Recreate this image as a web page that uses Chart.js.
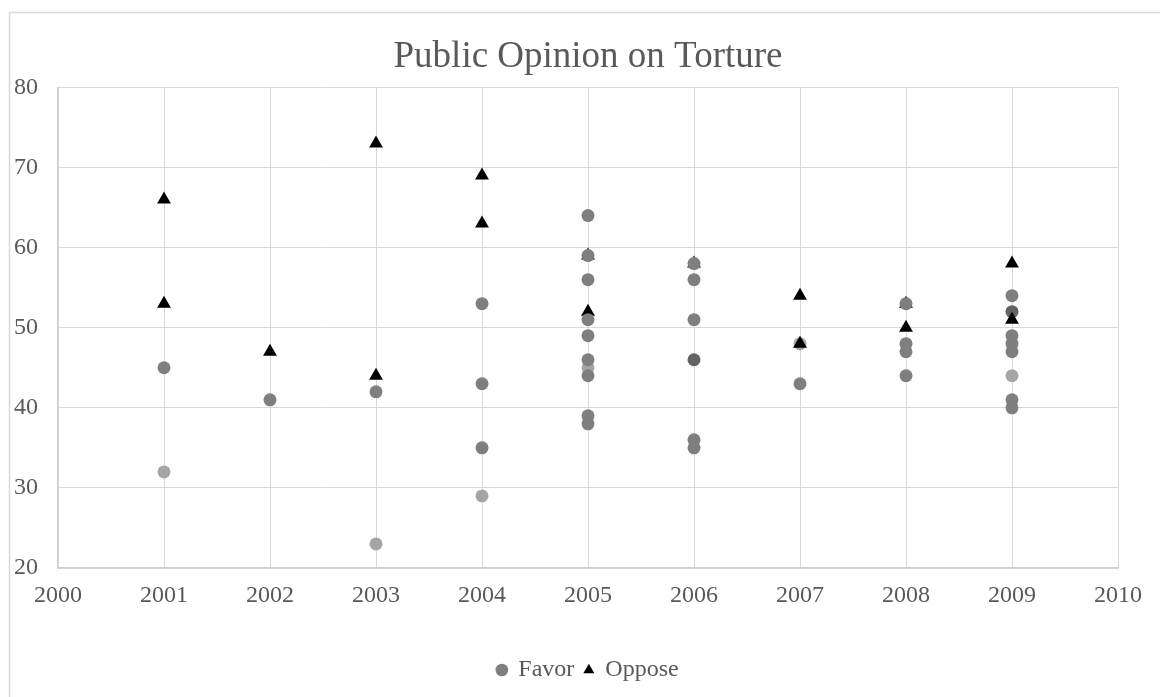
<!DOCTYPE html>
<html>
<head>
<meta charset="utf-8">
<title>Public Opinion on Torture</title>
<script src="https://cdn.jsdelivr.net/npm/chart.js@4/dist/chart.umd.min.js"></script>
<style>
  html, body { margin: 0; padding: 0; background: #fff; }
  #wrap { position: relative; width: 1160px; height: 697px; }
</style>
</head>
<body>
<div id="wrap"><canvas id="chart"></canvas></div>
<script>
// ============================
// Data
// ============================
const xTicks = [2000, 2001, 2002, 2003, 2004, 2005, 2006, 2007, 2008, 2009, 2010];
const yTicks = [20, 30, 40, 50, 60, 70, 80];

// Favor (main grey markers)
const favorYears  = [2001, 2002, 2003, 2004, 2004, 2004,
                     2005, 2005, 2005, 2005, 2005, 2005, 2005, 2005, 2005,
                     2006, 2006, 2006, 2006, 2006,
                     2007,
                     2008, 2008, 2008, 2008,
                     2009, 2009, 2009, 2009, 2009, 2009];
const favorValues = [45, 41, 42, 53, 43, 35,
                     64, 59, 56, 51, 49, 46, 44, 39, 38,
                     58, 56, 51, 36, 35,
                     43,
                     53, 48, 47, 44,
                     54, 49, 48, 47, 41, 40];

// Favor points drawn darker
const favorDarkYears  = [2006, 2009];
const favorDarkValues = [46, 52];

// Favor points drawn lighter
const favorLightYears  = [2001, 2003, 2004, 2005, 2007, 2009];
const favorLightValues = [32, 23, 29, 45, 48, 44];

// Oppose
const opposeYears  = [2001, 2001, 2002, 2003, 2003, 2004, 2004, 2005, 2005, 2006, 2007, 2007, 2008, 2008, 2009, 2009];
const opposeValues = [66, 53, 47, 73, 44, 69, 63, 59, 52, 58, 54, 48, 53, 50, 58, 51];

function toPoints(xs, ys) {
  return xs.map((x, i) => ({ x: x, y: ys[i] }));
}

// ============================
// Chart frame (Excel-style outer border, cropped on right/bottom)
// ============================
const framePlugin = {
  id: "frame",
  beforeDraw(chart) {
    const ctx = chart.ctx;
    ctx.save();
    ctx.strokeStyle = "#D9D9D9";
    ctx.lineWidth = 1.5;
    ctx.beginPath();
    ctx.moveTo(9.5, chart.height);
    ctx.lineTo(9.5, 12.5);
    ctx.lineTo(chart.width, 12.5);
    ctx.stroke();
    ctx.restore();
  }
};

const textColor = "#595959";
const serif = "'Liberation Serif', 'Times New Roman', serif";

new Chart(document.getElementById("chart").getContext("2d"), {
  type: "scatter",
  data: {
    datasets: [
      {
        label: "Favor",
        data: toPoints(favorYears, favorValues),
        pointStyle: "circle",
        pointRadius: 6.5,
        pointBorderWidth: 0,
        backgroundColor: "#7F7F7F",
        borderColor: "#7F7F7F",
        order: 0
      },
      {
        label: "Oppose",
        data: toPoints(opposeYears, opposeValues),
        pointStyle: "triangle",
        pointRadius: 8,
        pointBorderWidth: 0,
        backgroundColor: "#000000",
        borderColor: "#000000",
        order: 1
      },
      {
        label: "Favor (dark)",
        data: toPoints(favorDarkYears, favorDarkValues),
        pointStyle: "circle",
        pointRadius: 6.5,
        pointBorderWidth: 0,
        backgroundColor: "#636363",
        borderColor: "#636363",
        order: 2
      },
      {
        label: "Favor (light)",
        data: toPoints(favorLightYears, favorLightValues),
        pointStyle: "circle",
        pointRadius: 6.5,
        pointBorderWidth: 0,
        backgroundColor: "#A5A5A5",
        borderColor: "#A5A5A5",
        order: 3
      }
    ]
  },
  options: {
    responsive: true,
    maintainAspectRatio: false,
    animation: false,
    events: [],
    layout: {
      padding: { top: 0, left: 0, right: 42, bottom: 5 }
    },
    scales: {
      x: {
        type: "linear",
        min: xTicks[0],
        max: xTicks[xTicks.length - 1],
        afterBuildTicks: axis => { axis.ticks = xTicks.map(v => ({ value: v })); },
        afterFit: axis => { axis.height = 80; },
        ticks: {
          color: textColor,
          font: { family: serif, size: 24 },
          padding: 13,
          maxRotation: 0,
          callback: v => String(v)
        },
        grid: { color: "#D9D9D9", lineWidth: 1, drawTicks: false },
        border: { color: "#CFCFCF", width: 1.5 }
      },
      y: {
        type: "linear",
        min: yTicks[0],
        max: yTicks[yTicks.length - 1],
        afterBuildTicks: axis => { axis.ticks = yTicks.map(v => ({ value: v })); },
        afterFit: axis => { axis.width = 58; },
        ticks: {
          color: textColor,
          font: { family: serif, size: 24 },
          padding: 20,
          callback: v => String(v)
        },
        grid: { color: "#D9D9D9", lineWidth: 1, drawTicks: false },
        border: { color: "#CFCFCF", width: 1.5 }
      }
    },
    plugins: {
      title: {
        display: true,
        fullSize: false,
        text: "Public Opinion on Torture",
        color: textColor,
        font: { family: serif, size: 37, weight: "normal", lineHeight: 1.2 },
        padding: { top: 35, bottom: 8 }
      },
      legend: {
        position: "bottom",
        fullSize: false,
        labels: {
          color: textColor,
          font: { family: serif, size: 24 },
          usePointStyle: true,
          boxWidth: 9,
          boxHeight: 9,
          padding: 10,
          filter: item => item.datasetIndex < 2
        }
      },
      tooltip: { enabled: false }
    }
  },
  plugins: [framePlugin]
});
</script>
</body>
</html>
